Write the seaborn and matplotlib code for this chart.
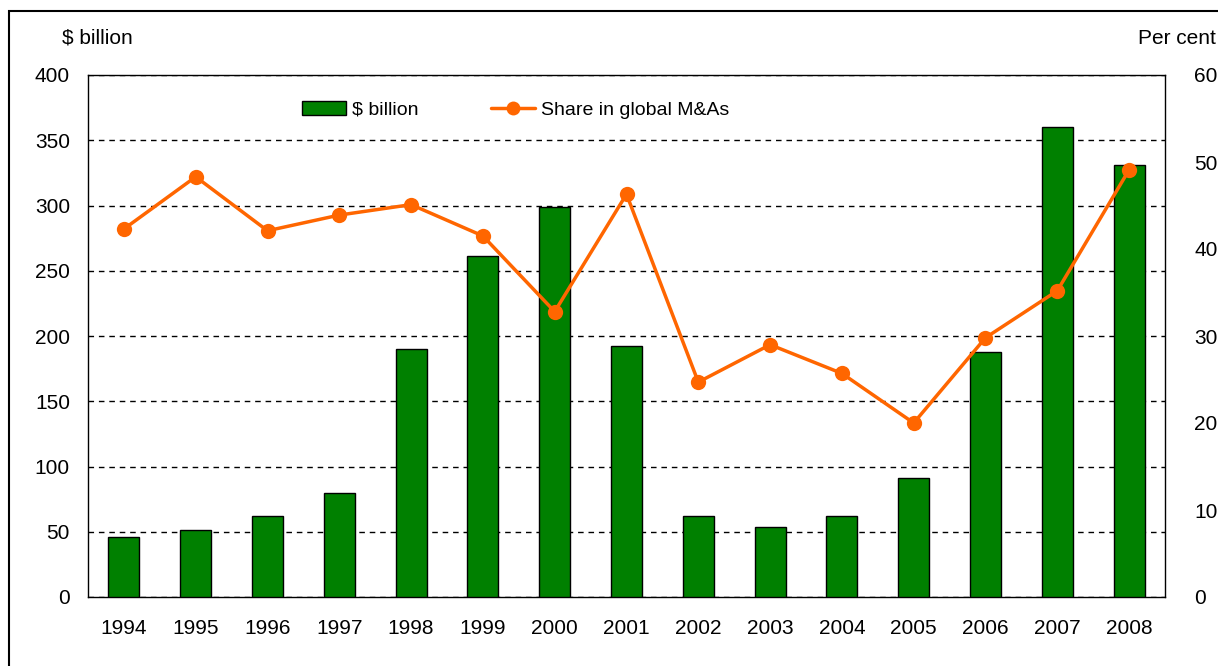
import numpy as np
import pandas as pd
import seaborn as sns
import matplotlib
matplotlib.use("Agg")
import matplotlib.pyplot as plt
from matplotlib.patches import Rectangle
from matplotlib.lines import Line2D
from matplotlib.patches import Patch

years = ["1994", "1995", "1996", "1997", "1998", "1999", "2000", "2001",
         "2002", "2003", "2004", "2005", "2006", "2007", "2008"]
value_bn = [46, 51, 62, 80, 190, 261, 299, 192, 62, 54, 62, 91, 188, 360, 331]
share_pct = [42.3, 48.3, 42.1, 43.9, 45.1, 41.5, 32.8, 46.3, 24.7, 29.0,
             25.7, 20.0, 29.8, 35.2, 49.1]

green = "#008000"
orange = "#FF6600"

sns.set_style("white")
plt.rcParams["font.family"] = ["Liberation Sans", "DejaVu Sans"]
plt.rcParams["font.size"] = 15
plt.rcParams["text.color"] = "black"
plt.rcParams["xtick.color"] = "black"
plt.rcParams["ytick.color"] = "black"

fig = plt.figure(figsize=(12.18, 6.66), dpi=100)
ax = fig.add_axes([88 / 1218, 1 - 597 / 666, 1077 / 1218, 522 / 666])

df = pd.DataFrame({"year": years, "value": value_bn, "share": share_pct})

# bars on the left axis
sns.barplot(data=df, x="year", y="value", ax=ax, color=green, saturation=1,
            width=0.43, edgecolor="black", linewidth=1, zorder=3)
ax.set_ylim(0, 400)
ax.set_yticks(np.arange(0, 401, 50))
ax.set_xlabel("")
ax.set_ylabel("")
ax.yaxis.grid(True, color="black", linestyle=(0, (4, 3.5)), linewidth=1)
ax.set_axisbelow(True)
ax.tick_params(axis="y", length=0, pad=13, labelsize=15)
ax.tick_params(axis="x", length=0, pad=16, labelsize=15)
for s in ax.spines.values():
    s.set_visible(True)
    s.set_color("black")
    s.set_linewidth(1)

# line on the right axis
ax2 = ax.twinx()
sns.lineplot(x=np.arange(len(years)), y=share_pct, ax=ax2, color=orange,
             marker="o", markersize=11, linewidth=2.5, markeredgewidth=0)
ax2.set_ylim(0, 60)
ax2.set_yticks(np.arange(0, 61, 10))
ax2.set_ylabel("")
ax2.tick_params(axis="y", length=0, pad=21, labelsize=15)
ax2.grid(False)
for s in ax2.spines.values():
    s.set_visible(False)
ax.set_xlim(-0.5, len(years) - 0.5)

handles = [Patch(facecolor=green, edgecolor="black", linewidth=1),
           Line2D([0], [0], color=orange, linewidth=2.5, marker="o",
                  markersize=10, markeredgewidth=0)]
ax2.legend(handles, ["$ billion", "Share in global M&As"], ncol=2,
           loc="center", bbox_to_anchor=(0.397, 0.933), frameon=False,
           fontsize=14, columnspacing=3.7, handlelength=2.3,
           handletextpad=0.3)

fig.text(62 / 1218, 1 - 38 / 666, "$ billion", fontsize=15, va="center")
fig.text(1138 / 1218, 1 - 38 / 666, "Per cent", fontsize=15, va="center")

# outer frame of the chart
fig.patches.append(Rectangle((9 / 1218, -0.05), 1.2, 1 - 11 / 666 + 0.05,
                             transform=fig.transFigure, fill=False,
                             edgecolor="black", linewidth=1.5))

fig.savefig("out.png", dpi=100)
